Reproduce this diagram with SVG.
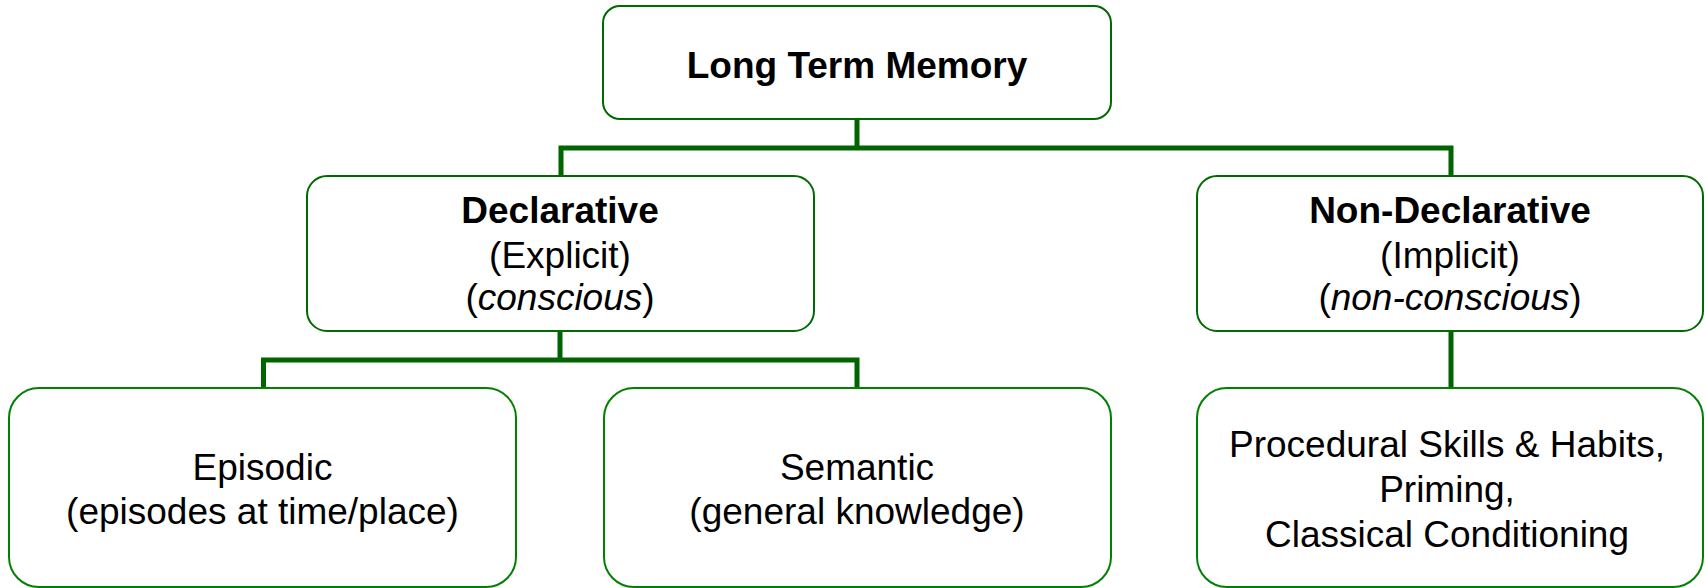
<svg xmlns="http://www.w3.org/2000/svg" width="1705" height="588" viewBox="0 0 1705 588">
  <style>
    .box { fill: #ffffff; stroke: #008000; stroke-width: 2; }
    .box-dark { fill: #ffffff; stroke: #006a00; stroke-width: 2; }
    .link { fill: none; stroke: #006400; stroke-width: 5; stroke-linejoin: miter; stroke-linecap: butt; }
    text { font-family: "Liberation Sans", Arial, sans-serif; font-size: 37px; fill: #000000; text-anchor: middle; }
    .title { font-weight: bold; }
    .it { font-style: italic; }
  </style>
  <rect width="1705" height="588" fill="#ffffff"/>

  <!-- tree connectors -->
  <g id="connectors">
    <path class="link" d="M857,119 V148"/>
    <path class="link" d="M561,176 V148 H1451 V176"/>
    <path class="link" d="M560,331 V360"/>
    <path class="link" d="M263.5,388 V360 H857 V388"/>
    <path class="link" d="M1451,331 V388"/>
  </g>

  <g id="long-term-memory">
    <rect class="box-dark" x="603" y="6" width="508" height="113" rx="17" ry="17"/>
    <text class="title" x="857" y="77.5">Long Term Memory</text>
  </g>

  <g id="declarative">
    <rect class="box-dark" x="307" y="176" width="507" height="155" rx="20" ry="20"/>
    <text class="title" x="560" y="223">Declarative</text>
    <text x="560" y="268">(Explicit)</text>
    <text x="560" y="310">(<tspan class="it">conscious</tspan>)</text>
  </g>

  <g id="non-declarative">
    <rect class="box-dark" x="1197" y="176" width="506" height="155" rx="20" ry="20"/>
    <text class="title" x="1450" y="223">Non-Declarative</text>
    <text x="1450" y="268">(Implicit)</text>
    <text x="1450" y="310">(<tspan class="it">non-conscious</tspan>)</text>
  </g>

  <g id="episodic">
    <rect class="box" x="9" y="388" width="507" height="199" rx="30" ry="30"/>
    <text x="262.5" y="480">Episodic</text>
    <text x="262.5" y="524">(episodes at time/place)</text>
  </g>

  <g id="semantic">
    <rect class="box" x="604" y="388" width="507" height="199" rx="30" ry="30"/>
    <text x="857" y="480">Semantic</text>
    <text x="857" y="524">(general knowledge)</text>
  </g>

  <g id="procedural">
    <rect class="box" x="1197" y="388" width="506" height="199" rx="30" ry="30"/>
    <text x="1447" y="457">Procedural Skills &amp; Habits,</text>
    <text x="1447" y="502">Priming,</text>
    <text x="1447" y="547">Classical Conditioning</text>
  </g>
</svg>
